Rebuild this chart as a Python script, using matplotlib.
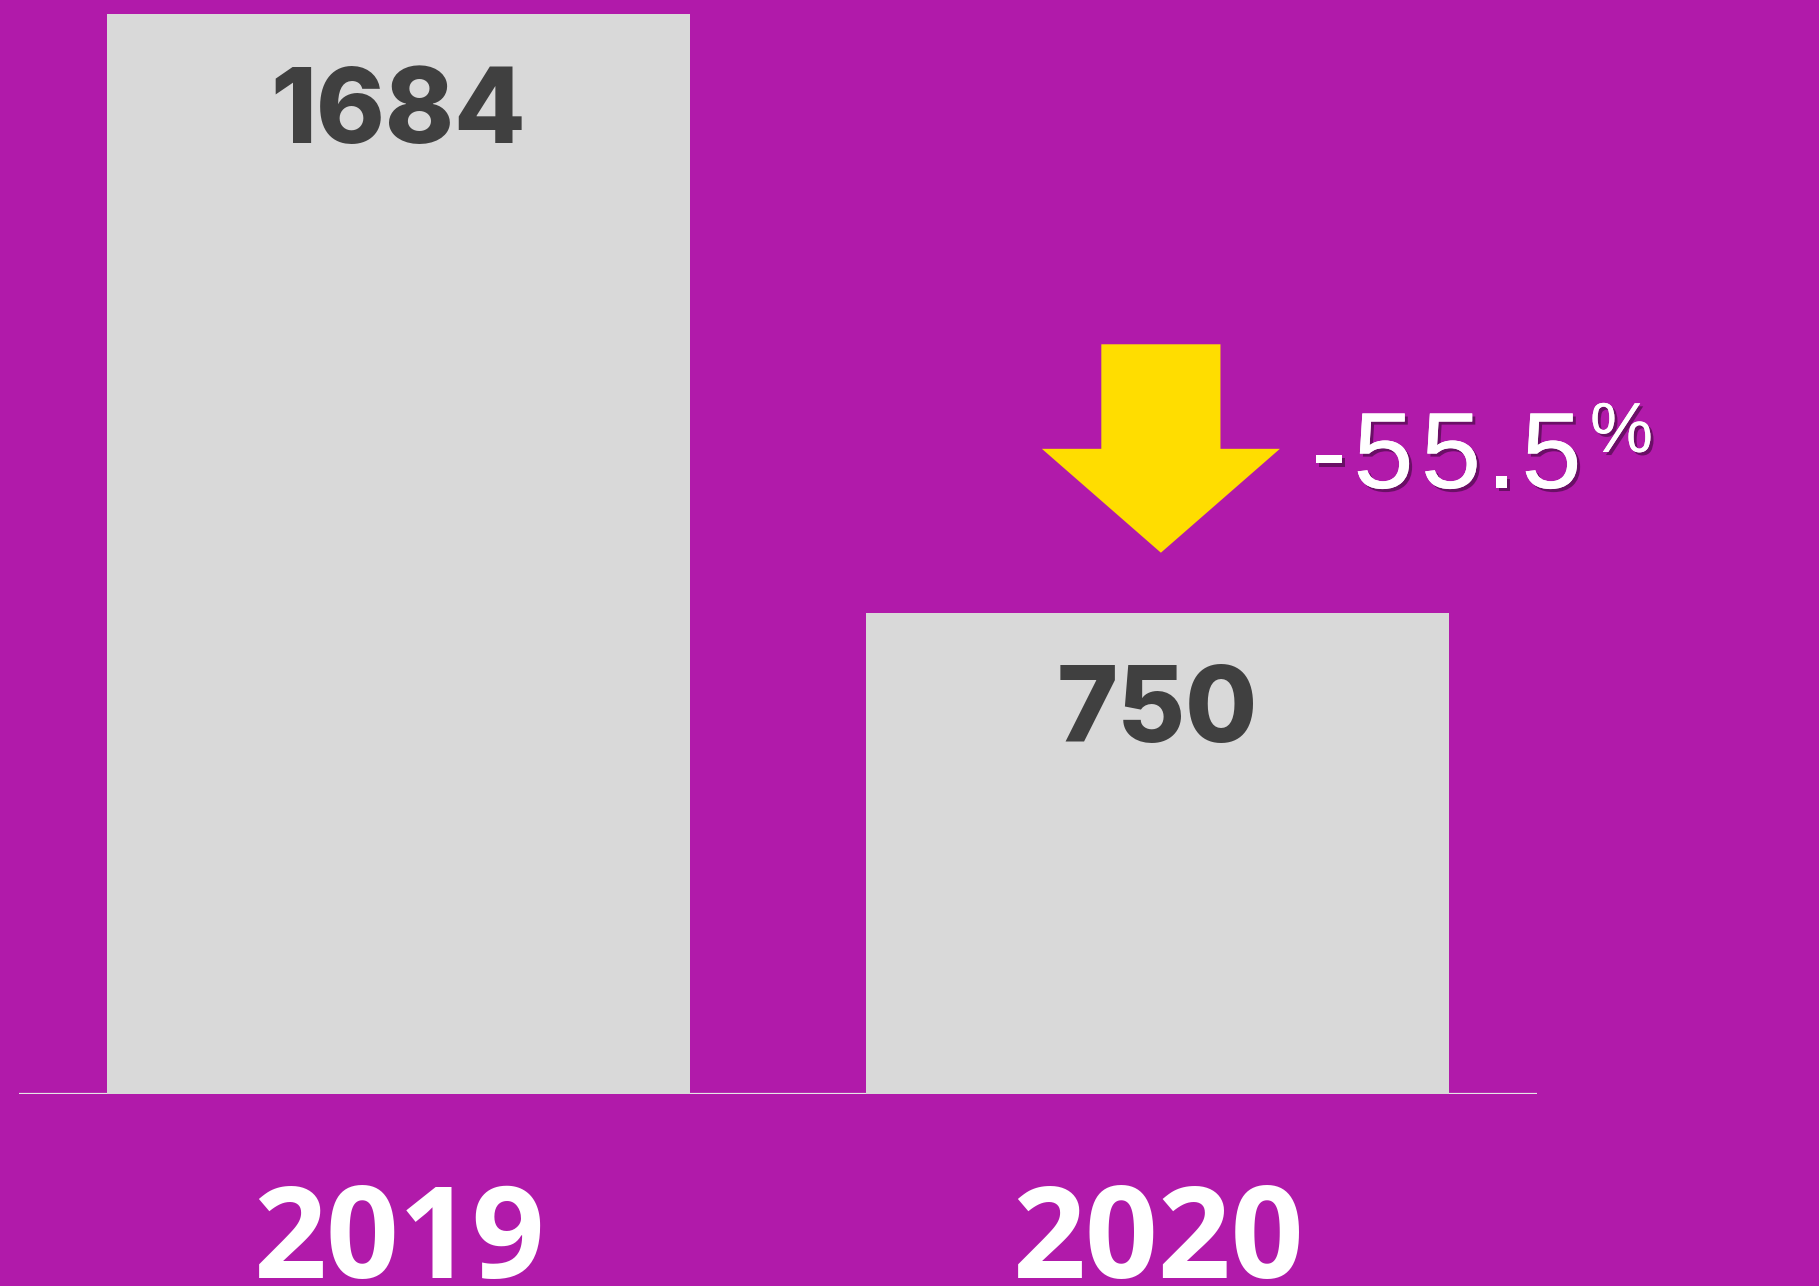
import matplotlib
matplotlib.use("Agg")
import matplotlib.pyplot as plt
import matplotlib.patheffects as pe
from matplotlib.patches import FancyArrow
from matplotlib.transforms import blended_transform_factory

# 数据
years = ["2019", "2020"]
values = [1684, 750]
change_chars = ["-", "5", "5", ".", "5"]
change_x = [1329, 1383.5, 1451, 1501.5, 1551.5]   # 像素中心位置

BG = "#B11AAA"
BAR = "#D9D9D9"
DARK = "#404040"
W, H = 1819, 1286


def main():
    fig = plt.figure(figsize=(W / 100, H / 100), dpi=100, facecolor=BG)
    ax = fig.add_axes([0.01045, 0.1493, 0.8345, 0.8478])
    ax.set_facecolor(BG)

    x = list(range(len(years)))
    ax.bar(x, values, width=0.768, color=BAR, zorder=2)
    ax.set_xlim(-0.5, 1.5)
    ax.set_ylim(0, 1700)
    ax.axhline(0, color="#E6E6E6", lw=1.6, zorder=1)
    for s in ax.spines.values():
        s.set_visible(False)
    ax.set_xticks([])
    ax.set_yticks([])

    # 柱上数值
    for xi, v in zip(x, values):
        ax.annotate(str(v), (xi, v), xytext=(0, -93.2), textcoords="offset points",
                    ha="center", va="baseline", fontsize=75, fontweight="heavy",
                    family="Inter", color=DARK, zorder=3)

    # 年份标签
    tr = blended_transform_factory(ax.transData, fig.transFigure)
    for xi, y in zip(x, years):
        ax.text(xi, 0.0062, y, transform=tr, ha="center", va="baseline",
                fontsize=92, fontweight="bold", family="Open Sans",
                color="white", clip_on=False)

    # 下降箭头
    arrow = FancyArrow(1.0045, 1169, 0, -325, width=0.157, head_width=0.3136,
                       head_length=162, length_includes_head=True,
                       color="#FFDD00", lw=0, zorder=3)
    ax.add_patch(arrow)

    # 变化百分比（带阴影）
    shadow = [pe.withSimplePatchShadow(offset=(2.2, -2.2), shadow_rgbFace="#5E0E5A", alpha=0.85),
              pe.Normal()]
    for ch, cx in zip(change_chars, change_x):
        fig.text(cx / W, (H - 488) / H, ch, ha="center", va="baseline",
                 fontsize=78, family="Liberation Sans", color="white", path_effects=shadow)
    fig.text(1621.5 / W, (H - 452) / H, "%", ha="center", va="baseline",
             fontsize=51, family="Liberation Sans", color="white", path_effects=shadow)

    fig.savefig("out.png", dpi=100, facecolor=BG)


if __name__ == "__main__":
    main()
